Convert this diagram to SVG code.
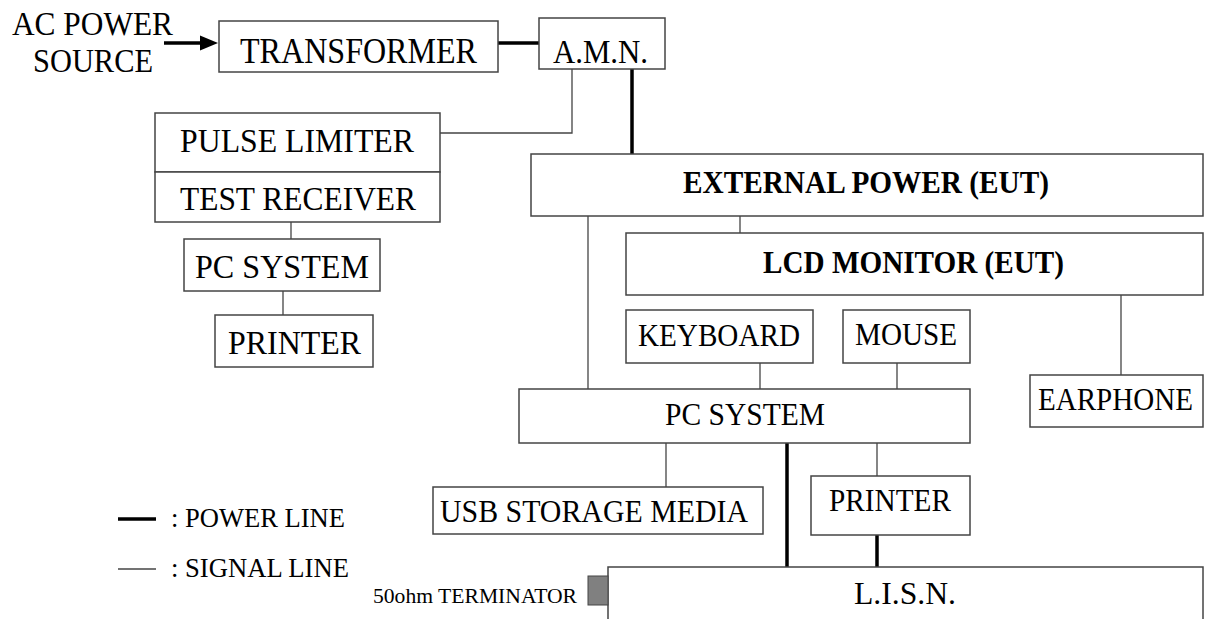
<svg xmlns="http://www.w3.org/2000/svg" width="1211" height="619" viewBox="0 0 1211 619">
<defs>
<style>
.box{fill:#fff;stroke:#444;stroke-width:1.5}
.t{font-family:"Liberation Serif","Times New Roman",serif;font-size:34px;fill:#000}
.s{font-size:31px}
.b{font-weight:bold;font-size:32px}
.sig{stroke:#444;stroke-width:1.3;fill:none}
.pow{stroke:#000;stroke-width:3.5;fill:none}
</style>
</defs>
<rect width="1211" height="619" fill="#fff"/>
<g id="connectors">
<line class="pow" x1="164" y1="43" x2="202" y2="43"/>
<path d="M200,35.5 L218,43 L200,50.5 z" fill="#000"/>
<line class="pow" x1="498" y1="43" x2="539" y2="43"/>
<polyline class="sig" points="572,69 572,133 440,133"/>
<line class="pow" x1="632" y1="69" x2="632" y2="154"/>
<line class="sig" x1="291" y1="222" x2="291" y2="239"/>
<line class="sig" x1="283" y1="291" x2="283" y2="315"/>
<line class="sig" x1="740" y1="216" x2="740" y2="233"/>
<line class="sig" x1="588" y1="216" x2="588" y2="389"/>
<line class="sig" x1="760" y1="363" x2="760" y2="389"/>
<line class="sig" x1="897" y1="363" x2="897" y2="389"/>
<line class="sig" x1="1121" y1="295" x2="1121" y2="375"/>
<line class="sig" x1="666" y1="443" x2="666" y2="487"/>
<line class="pow" x1="787" y1="443" x2="787" y2="567"/>
<line class="sig" x1="877" y1="443" x2="877" y2="476"/>
<line class="pow" x1="877" y1="535" x2="877" y2="567"/>
</g>
<g id="ac-source">
<text class="t" x="12" y="35" textLength="161" lengthAdjust="spacingAndGlyphs">AC POWER</text>
<text class="t" x="33" y="72" textLength="120" lengthAdjust="spacingAndGlyphs">SOURCE</text>
</g>
<g id="transformer">
<rect class="box" x="219" y="21" width="279" height="51"/>
<text class="t" x="240" y="63" style="font-size:35px" textLength="237" lengthAdjust="spacingAndGlyphs">TRANSFORMER</text>
</g>
<g id="amn">
<rect class="box" x="539" y="18" width="126" height="51"/>
<text class="t" x="553" y="63" textLength="95" lengthAdjust="spacingAndGlyphs">A.M.N.</text>
</g>
<g id="pulse-limiter">
<rect class="box" x="155" y="113" width="285" height="59"/>
<text class="t" x="180" y="152" textLength="234" lengthAdjust="spacingAndGlyphs">PULSE LIMITER</text>
</g>
<g id="test-receiver">
<rect class="box" x="155" y="172" width="285" height="50"/>
<text class="t" x="180" y="210" textLength="236" lengthAdjust="spacingAndGlyphs">TEST RECEIVER</text>
</g>
<g id="pc-system-left">
<rect class="box" x="184" y="239" width="196" height="52"/>
<text class="t" x="195" y="278" textLength="174" lengthAdjust="spacingAndGlyphs">PC SYSTEM</text>
</g>
<g id="printer-left">
<rect class="box" x="215" y="315" width="158" height="52"/>
<text class="t" x="228" y="354" textLength="133" lengthAdjust="spacingAndGlyphs">PRINTER</text>
</g>
<g id="external-power">
<rect class="box" x="531" y="154" width="672" height="62"/>
<text class="t b" x="683" y="193" textLength="366" lengthAdjust="spacingAndGlyphs">EXTERNAL POWER (EUT)</text>
</g>
<g id="lcd-monitor">
<rect class="box" x="626" y="233" width="577" height="62"/>
<text class="t b" x="763" y="273" textLength="301" lengthAdjust="spacingAndGlyphs">LCD MONITOR (EUT)</text>
</g>
<g id="keyboard">
<rect class="box" x="626" y="310" width="187" height="53"/>
<text class="t s" x="638" y="346" textLength="162" lengthAdjust="spacingAndGlyphs">KEYBOARD</text>
</g>
<g id="mouse">
<rect class="box" x="843" y="310" width="127" height="53"/>
<text class="t s" x="855" y="345" textLength="102" lengthAdjust="spacingAndGlyphs">MOUSE</text>
</g>
<g id="earphone">
<rect class="box" x="1030" y="375" width="173" height="52"/>
<text class="t s" x="1038" y="410" textLength="155" lengthAdjust="spacingAndGlyphs">EARPHONE</text>
</g>
<g id="pc-system">
<rect class="box" x="519" y="389" width="451" height="54"/>
<text class="t s" x="665" y="425" textLength="160" lengthAdjust="spacingAndGlyphs">PC SYSTEM</text>
</g>
<g id="usb-storage">
<rect class="box" x="433" y="487" width="330" height="47"/>
<text class="t s" x="440" y="522" textLength="308" lengthAdjust="spacingAndGlyphs">USB STORAGE MEDIA</text>
</g>
<g id="printer">
<rect class="box" x="811" y="476" width="159" height="59"/>
<text class="t s" x="829" y="511" textLength="122" lengthAdjust="spacingAndGlyphs">PRINTER</text>
</g>
<g id="lisn">
<rect class="box" x="608" y="567" width="595" height="70"/>
<text class="t s" x="854" y="604" textLength="102" lengthAdjust="spacingAndGlyphs">L.I.S.N.</text>
</g>
<g id="terminator">
<rect x="588" y="576" width="20" height="29" fill="#808080" stroke="#444" stroke-width="1"/>
<text class="t" x="373" y="603" style="font-size:21px" textLength="204" lengthAdjust="spacingAndGlyphs">50ohm TERMINATOR</text>
</g>
<g id="legend">
<line class="pow" x1="118" y1="519" x2="156" y2="519"/>
<text class="t" x="171" y="527" style="font-size:27px" textLength="174" lengthAdjust="spacingAndGlyphs">: POWER LINE</text>
<line class="sig" x1="118" y1="569" x2="156" y2="569"/>
<text class="t" x="171" y="577" style="font-size:27px" textLength="178" lengthAdjust="spacingAndGlyphs">: SIGNAL LINE</text>
</g>
</svg>
